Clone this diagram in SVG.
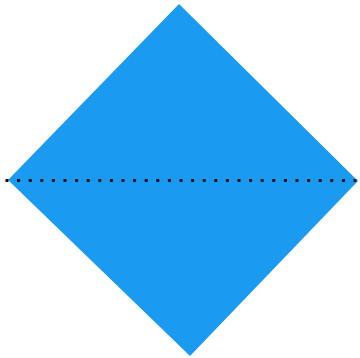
<svg xmlns="http://www.w3.org/2000/svg" width="360" height="358" viewBox="0 0 360 358">
<style>
.shape{fill:#1a9af0;stroke:none}
.fold{stroke:#111;stroke-width:3;stroke-dasharray:3 8.6;fill:none}
</style>
<rect width="360" height="358" fill="#ffffff"/>
<g id="diamond">
<polygon class="shape" points="179,4 358,181 190,356 8,180"/>
</g>
<g id="connectors">
<line class="fold" x1="5.5" y1="180.5" x2="360" y2="180.5"/>
</g>
</svg>
